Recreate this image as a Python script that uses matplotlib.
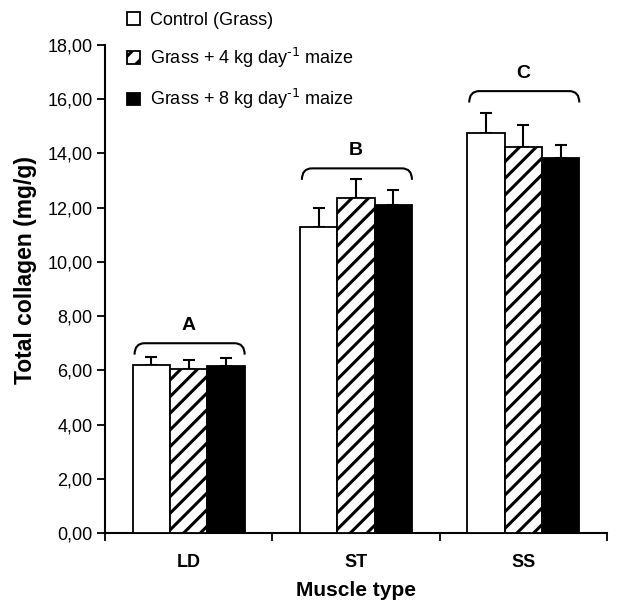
""" Total collagen by muscle type and diet, grouped bar chart. """

import numpy as np
import matplotlib
matplotlib.use('Agg')
import matplotlib.pyplot as plt
from matplotlib.path import Path
from matplotlib.patches import PathPatch, Patch
from matplotlib.ticker import FuncFormatter

plt.rcParams['font.family'] = ['Liberation Sans', 'DejaVu Sans']
plt.rcParams['mathtext.default'] = 'regular'
plt.rcParams['hatch.linewidth'] = 2.2

muscles = ['LD', 'ST', 'SS']
diets = ['Control (Grass)',
         'Grass + 4 kg day$^{\\text{-1}}$ maize',
         'Grass + 8 kg day$^{\\text{-1}}$ maize']

# mean and SE, one list per diet (LD, ST, SS)
control = [6.20, 11.30, 14.75]
maize4 = [6.05, 12.35, 14.25]
maize8 = [6.15, 12.10, 13.85]
control_err = [0.30, 0.70, 0.75]
maize4_err = [0.35, 0.72, 0.80]
maize8_err = [0.30, 0.55, 0.48]

group_letters = ['A', 'B', 'C']
bracket_top = [7.00, 13.45, 16.30]

fig = plt.figure(figsize=(6.43, 6.02), dpi=100)
ax = fig.add_axes([0.1633, 0.1146, 0.7807, 0.8106])

x = np.arange(len(muscles)) + 0.5
w = 0.223
styles = [dict(facecolor='white', hatch=None),
          dict(facecolor='white', hatch='//'),
          dict(facecolor='black', hatch=None)]

for i, (vals, errs) in enumerate([(control, control_err),
                                  (maize4, maize4_err),
                                  (maize8, maize8_err)]):
    pos = x + (i - 1) * w
    ax.bar(pos, vals, w, edgecolor='black', linewidth=1.3, zorder=3, **styles[i])
    ax.errorbar(pos, vals, yerr=[np.zeros(len(errs)), errs], fmt='none',
                ecolor='black', elinewidth=1.5, capsize=4.5, capthick=1.5, zorder=2)

# curly brackets over each group, with the group letter
for xc, top, letter in zip(x, bracket_top, group_letters):
    left, right = xc - 1.45 * w, xc + 1.5 * w
    dx, dy = 0.06, 0.42
    verts = [(left, top - dy), (left, top), (left + dx, top),
             (right - dx, top), (right, top), (right, top - dy)]
    codes = [Path.MOVETO, Path.CURVE3, Path.CURVE3,
             Path.LINETO, Path.CURVE3, Path.CURVE3]
    ax.add_patch(PathPatch(Path(verts, codes), facecolor='none',
                           edgecolor='black', linewidth=1.5, zorder=4))
    ax.text(xc, top + 0.35, letter, ha='center', va='bottom',
            fontsize=14, fontweight='bold')

ax.set_xlim(0, 3)
ax.set_ylim(0, 18)
ax.set_yticks(np.arange(0, 19, 2))
ax.yaxis.set_major_formatter(FuncFormatter(lambda v, p: '{:.2f}'.format(v).replace('.', ',')))
ax.set_xticks([0, 1, 2, 3])
ax.set_xticklabels([])
ax.set_xticks(x, minor=True)
ax.set_xticklabels(muscles, minor=True, fontsize=13, fontweight='bold')
ax.tick_params(axis='x', which='minor', length=0, pad=15)
ax.tick_params(axis='x', which='major', direction='out', length=6, width=1.3)
ax.tick_params(axis='y', direction='out', length=6, width=1.3, labelsize=13, pad=3)

for side in ['top', 'right']:
    ax.spines[side].set_visible(False)
for side in ['left', 'bottom']:
    ax.spines[side].set_linewidth(1.5)

ax.set_xlabel('Muscle type', fontsize=15, fontweight='bold', labelpad=7)
ax.set_ylabel('Total collagen (mg/g)', fontsize=16.5, fontweight='bold')
ax.yaxis.set_label_coords(-0.135, 0.54)

handles = [Patch(edgecolor='black', linewidth=1.3, **s) for s in styles]
fig.legend(handles, diets, loc='upper left', bbox_to_anchor=(0.18, 1.0),
           frameon=False, fontsize=13, handlelength=0.7, handleheight=0.7,
           handletextpad=0.55, labelspacing=0.95, borderaxespad=0.25)

fig.savefig('out.png', dpi=100)
